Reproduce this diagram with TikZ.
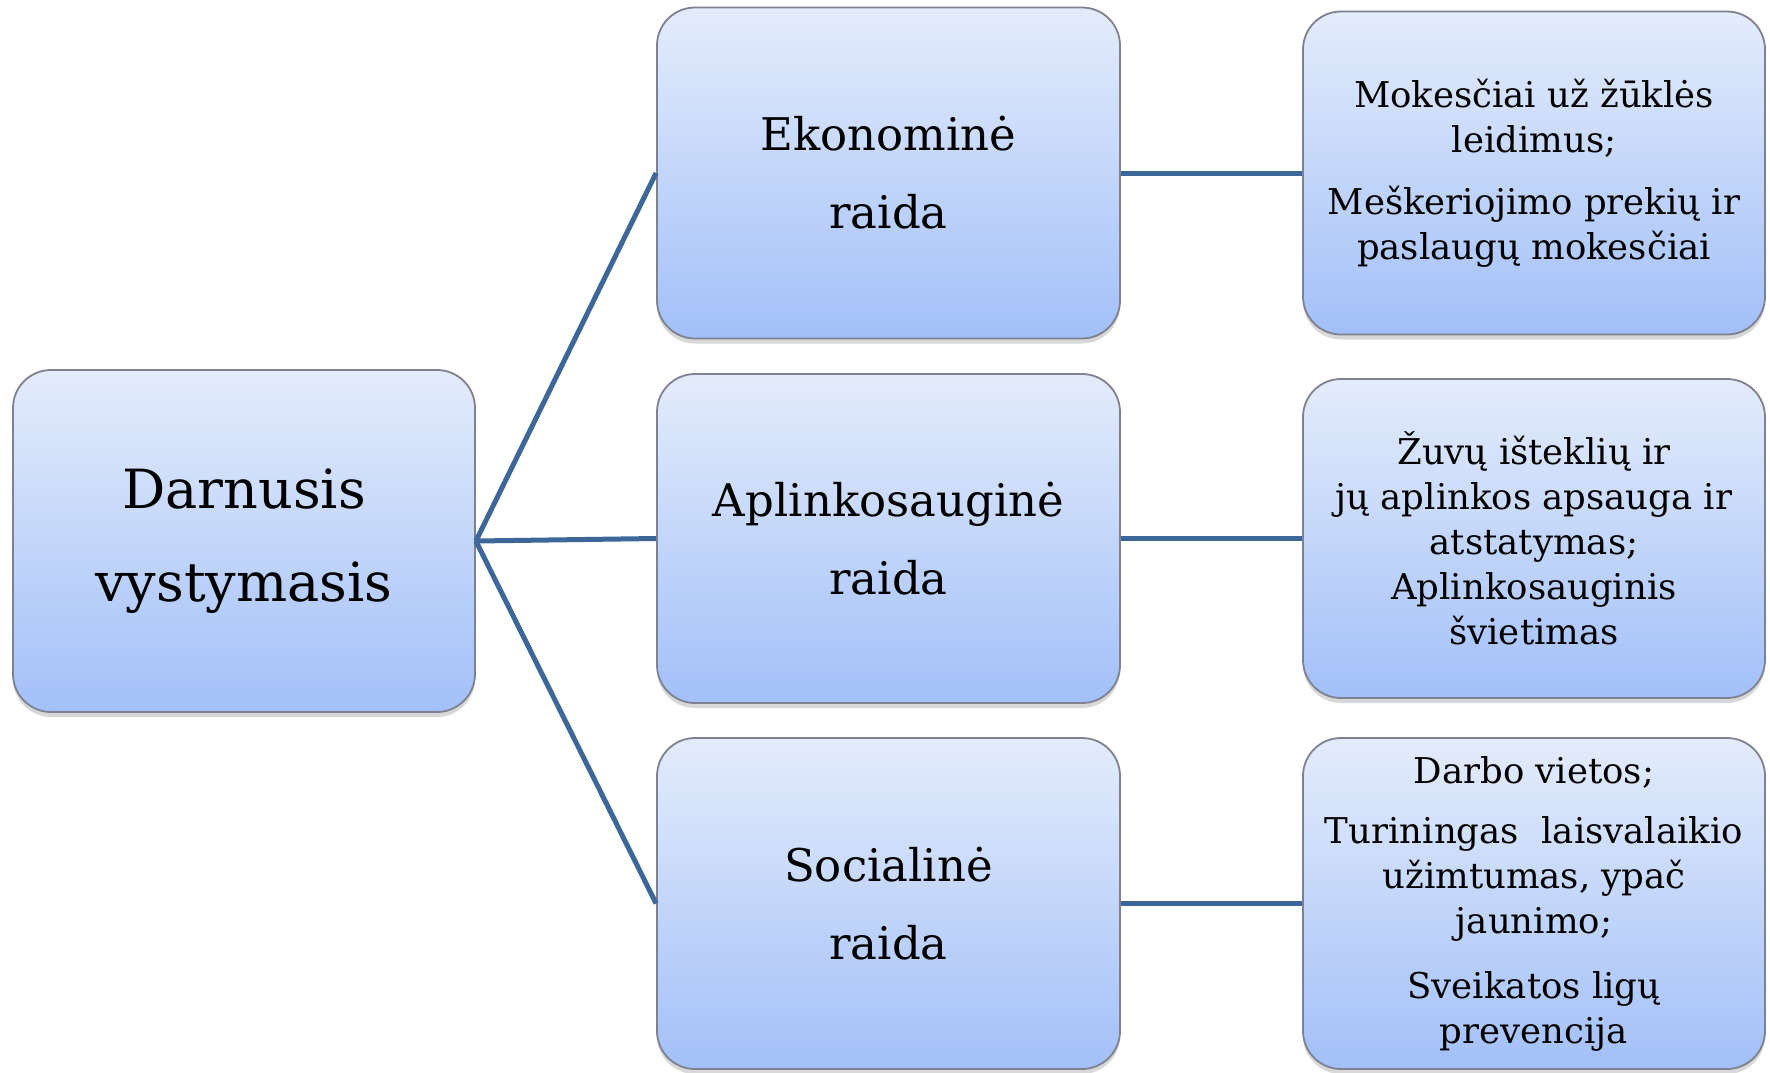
\documentclass[tikz,border=0pt]{standalone}
\usepackage{fontspec}
\setmainfont{DejaVu Serif}
\usetikzlibrary{shadows}
\definecolor{boxtop}{HTML}{E4ECFB}
\definecolor{boxbot}{HTML}{A2C0F8}
\definecolor{boxline}{HTML}{7E8190}
\definecolor{conn}{HTML}{3D6699}
\tikzset{
  box/.style={rectangle, rounded corners=38pt, draw=boxline, line width=1.8pt,
    top color=boxtop, bottom color=boxbot, align=center, inner sep=0pt,
    drop shadow={opacity=0.3, shadow xshift=0pt, shadow yshift=-5pt}},
  bigtxt/.style={font=\fontsize{54}{93}\selectfont},
  midtxt/.style={font=\fontsize{45}{78}\selectfont},
  smalltxt/.style={font=\fontsize{35.5}{45}\selectfont},
  link/.style={draw=conn, line width=5pt}
}
\begin{document}
\begin{tikzpicture}[x=1pt,y=-1pt]
\useasboundingbox[fill=white] (0,0) rectangle (1770,1072);
% left
\node[box,bigtxt, minimum width=462pt, minimum height=342pt] (dv) at (244,541) {Darnusis\\vystymasis};
% middle
\node[box,midtxt, minimum width=463pt, minimum height=331pt] (ek) at (888.5,173) {Ekonominė\\raida};
\node[box,midtxt, minimum width=463pt, minimum height=329pt] (ap) at (888.5,538.5) {Aplinkosauginė\\raida};
\node[box,midtxt, minimum width=463pt, minimum height=331pt] (so) at (888.5,903.5) {Socialinė\\raida};
% right
\node[box,smalltxt, minimum width=462pt, minimum height=323pt] (r1) at (1534,173)
  {Mokesčiai už žūklės\\leidimus;\\[17pt]Meškeriojimo prekių ir\\paslaugų mokesčiai};
\node[box,smalltxt, minimum width=462pt, minimum height=319pt] (r2) at (1534,538.5)
  {Žuvų išteklių ir\\jų aplinkos apsauga ir\\atstatymas;\\Aplinkosauginis\\švietimas};
\node[box,smalltxt, minimum width=462pt, minimum height=331pt] (r3) at (1534,903.5)
  {Darbo vietos;\\[15pt]Turiningas\ \ laisvalaikio\\užimtumas, ypač\\jaunimo;\\[20pt]Sveikatos ligų\\prevencija};
% connectors
\draw[link] (dv.east) -- (ek.west);
\draw[link] (dv.east) -- (ap.west);
\draw[link] (dv.east) -- (so.west);
\draw[link] (ek.east) -- (r1.west);
\draw[link] (ap.east) -- (r2.west);
\draw[link] (so.east) -- (r3.west);
\end{tikzpicture}
\end{document}
